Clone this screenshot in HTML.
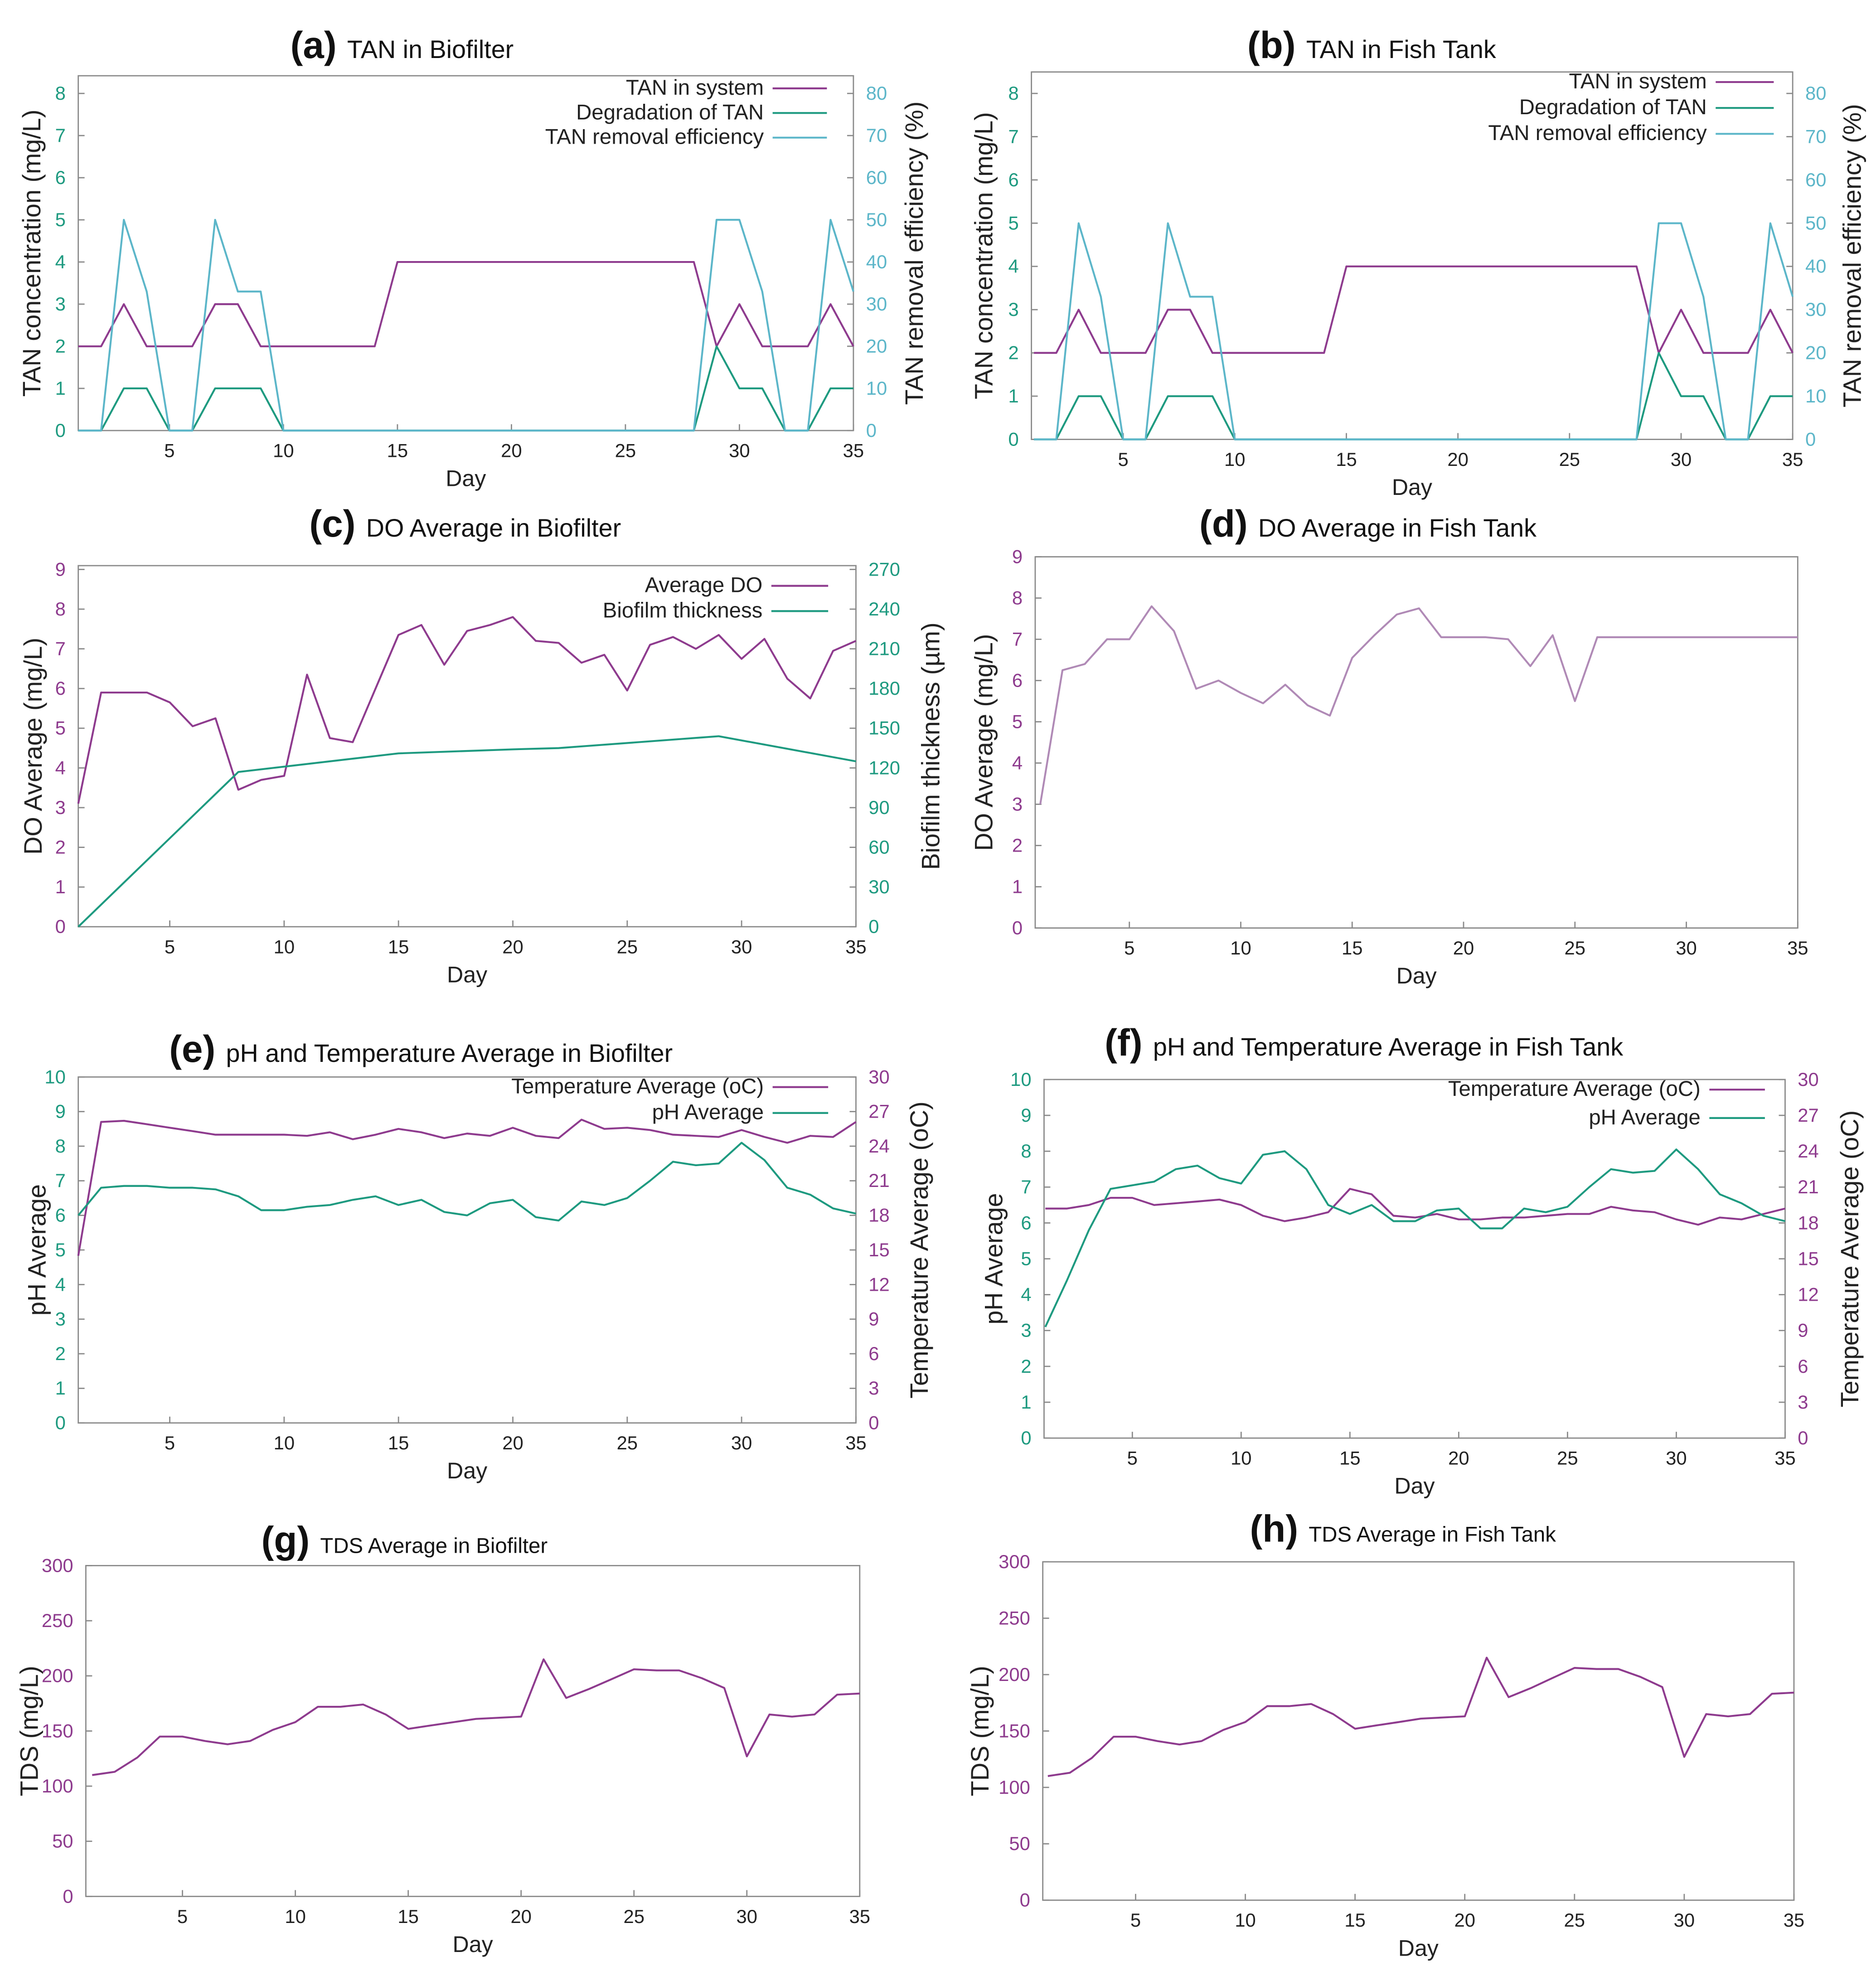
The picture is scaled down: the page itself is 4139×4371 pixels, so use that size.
<!DOCTYPE html>
<html><head><meta charset="utf-8"><style>
html,body{margin:0;padding:0;background:#fff}
svg{display:block}
text{font-family:"Liberation Sans",sans-serif}
</style></head><body>
<svg id="fig" width="4139" height="4371" viewBox="0 0 1486 1569" preserveAspectRatio="none" xmlns="http://www.w3.org/2000/svg"></svg>
<script>
const days = Array.from({length:35},(_,i)=>i+1);
const tanSystem = [2,2,3,2,2,2,3,3,2,2,2,2,2,2,4,4,4,4,4,4,4,4,4,4,4,4,4,4,2,3,2,2,2,3,2];
const tanDegradation = [0,0,1,1,0,0,1,1,1,0,0,0,0,0,0,0,0,0,0,0,0,0,0,0,0,0,0,0,2,1,1,0,0,1,1];
const tanEfficiency = [0,0,50,33,0,0,50,33,33,0,0,0,0,0,0,0,0,0,0,0,0,0,0,0,0,0,0,0,50,50,33,0,0,50,33];
const doBiofilter = [3.1,5.9,5.9,5.9,5.65,5.05,5.25,3.45,3.7,3.8,6.35,4.75,4.65,6.0,7.35,7.6,6.6,7.45,7.6,7.8,7.2,7.15,6.65,6.85,5.95,7.1,7.3,7.0,7.35,6.75,7.25,6.25,5.75,6.95,7.2];
const biofilmDays = [1,8,10,15,20,22,29,35];
const biofilmThickness = [0,117,121,131,134,135,144,125];
const doFishTank = [3.0,6.25,6.4,7.0,7.0,7.8,7.2,5.8,6.0,5.7,5.45,5.9,5.4,5.15,6.55,7.1,7.6,7.75,7.05,7.05,7.05,7.0,6.35,7.1,5.5,7.05,7.05,7.05,7.05,7.05,7.05,7.05,7.05,7.05,7.05];
const tempBiofilter = [14.5,26.1,26.2,25.9,25.6,25.3,25.0,25.0,25.0,25.0,24.9,25.2,24.6,25.0,25.5,25.2,24.7,25.1,24.9,25.6,24.9,24.7,26.3,25.5,25.6,25.4,25.0,24.9,24.8,25.4,24.8,24.3,24.9,24.8,26.1];
const phBiofilter = [6.0,6.8,6.85,6.85,6.8,6.8,6.75,6.55,6.15,6.15,6.25,6.3,6.45,6.55,6.3,6.45,6.1,6.0,6.35,6.45,5.95,5.85,6.4,6.3,6.5,7.0,7.55,7.45,7.5,8.1,7.6,6.8,6.6,6.2,6.05];
const tempFishTank = [19.2,19.2,19.5,20.1,20.1,19.5,19.65,19.8,19.95,19.5,18.6,18.15,18.45,18.9,20.85,20.4,18.6,18.45,18.75,18.3,18.3,18.45,18.45,18.6,18.75,18.75,19.35,19.05,18.9,18.3,17.85,18.45,18.3,18.75,19.2];
const phFishTank = [3.1,4.4,5.8,6.95,7.05,7.15,7.5,7.6,7.25,7.1,7.9,8.0,7.5,6.5,6.25,6.5,6.05,6.05,6.35,6.4,5.85,5.85,6.4,6.3,6.45,7.0,7.5,7.4,7.45,8.05,7.5,6.8,6.55,6.2,6.05];
const tdsBiofilter = [110,113,126,145,145,141,138,141,151,158,172,172,174,165,152,155,158,161,162,163,215,180,188,197,206,205,205,198,189,127,165,163,165,183,184];
const tdsFishTank = tdsBiofilter.slice();
const xTicks = [5,10,15,20,25,30,35];

const P='#8e3b8e', T='#1e9a80', B='#5cb6c9';
const svg=document.getElementById('fig'), NS='http://www.w3.org/2000/svg';
function el(tag,attrs,parent,txt){const e=document.createElementNS(NS,tag);for(const k in attrs)e.setAttribute(k,attrs[k]);if(txt!==undefined)e.textContent=txt;(parent||svg).appendChild(e);return e;}

function panel(c){
  const g=el('g',{});
  
  
  const [L,R,Tp,Bt]=c.frame;
  const xs=d=>c.x1+(d-1)*(c.x35-c.x1)/34;
  const ysL=v=>c.y0+(v/c.lmax)*(c.yTop-c.y0);
  const ysR=v=>c.y0+(v/c.rmax)*(c.yTop-c.y0);
  const fr=el('rect',{x:L,y:Tp,width:R-L,height:Bt-Tp,fill:'none',stroke:'#8a8a8a','stroke-width':1},g);
  
  const tt=el('text',{x:c.title[0],y:c.title[1],'font-size':c.tsize||20,fill:'#111'},g);
  
  el('tspan',{'font-weight':'bold','font-size':30},tt,'('+c.id+') ');
  el('tspan',{},tt,c.title[2]);
  xTicks.forEach(d=>{
    const x=xs(d);
    el('line',{x1:x,x2:x,y1:Bt,y2:Bt-5,stroke:'#8a8a8a'},g);
    const t=el('text',{x:x,y:Bt+21,'font-size':15,'text-anchor':'middle',fill:'#222'},g,d);
    
  });
  const xl=el('text',{x:(L+R)/2,y:Bt+44,'font-size':18,'text-anchor':'middle',fill:'#222'},g,'Day');
  
  c.lticks.forEach(v=>{
    const y=ysL(v);
    el('line',{x1:L,x2:L+5,y1:y,y2:y,stroke:'#8a8a8a'},g);
    const t=el('text',{x:L-10,y:y+5,'font-size':15,'text-anchor':'end',fill:c.lcol},g,v);
    
  });
  const yl=el('text',{x:0,y:0,'font-size':20,'text-anchor':'middle',fill:'#222',transform:`translate(${c.ylab[0]},${(Tp+Bt)/2}) rotate(-90)`},g,c.ylab[1]);
  
  if(c.rticks){
    c.rticks.forEach(v=>{
      const y=ysR(v);
      el('line',{x1:R,x2:R-5,y1:y,y2:y,stroke:'#8a8a8a'},g);
      const t=el('text',{x:R+10,y:y+5,'font-size':15,'text-anchor':'start',fill:c.rcol},g,v);
      
    });
    const rl=el('text',{x:0,y:0,'font-size':20,'text-anchor':'middle',fill:'#222',transform:`translate(${c.rlab[0]},${(Tp+Bt)/2}) rotate(-90)`},g,c.rlab[1]);
    
  }
  c.series.forEach((s,i)=>{
    const sc=s.right?ysR:ysL;
    const dd=s.days||days;
    const pts=dd.map((d,k)=>xs(d).toFixed(1)+','+sc(s.vals[k]).toFixed(1)).join(' ');
    const pl=el('polyline',{points:pts,fill:'none',stroke:s.col,'stroke-width':1.5,'stroke-linejoin':'round'},g);
    
    if(s.name && c.leg){
      const y=c.leg[2]+i*c.leg[3];
      const lt=el('text',{x:c.leg[0],y:y+5,'font-size':17,'text-anchor':'end',fill:'#222'},g,s.name);
      
      el('line',{x1:c.leg[0]+7,x2:c.leg[1],y1:y,y2:y,stroke:s.col,'stroke-width':1.5},g);
    }
  });
}
const r=(a,b,s)=>{const o=[];for(let v=a;v<=b;v+=s)o.push(v);return o;};
const tanSeries=[{name:'TAN in system',vals:tanSystem,col:P},{name:'Degradation of TAN',vals:tanDegradation,col:T},{name:'TAN removal efficiency',vals:tanEfficiency,col:B,right:true}];
panel({id:'a',frame:[62,676,60,341],x1:62,x35:676,y0:341,yTop:74,lmax:8,rmax:80,lticks:r(0,8,1),rticks:r(0,80,10),lcol:T,rcol:B,
  ylab:[32,'TAN concentration (mg/L)'],rlab:[731,'TAN removal efficiency (%)'],title:[230,46,'TAN in Biofilter'],leg:[605,655,70,19.5],series:tanSeries});
panel({id:'b',frame:[817,1420,57,348],x1:819,x35:1420,y0:348,yTop:74,lmax:8,rmax:80,lticks:r(0,8,1),rticks:r(0,80,10),lcol:T,rcol:B,
  ylab:[786,'TAN concentration (mg/L)'],rlab:[1474,'TAN removal efficiency (%)'],title:[988,46,'TAN in Fish Tank'],leg:[1352,1405,65,20.5],series:tanSeries});
panel({id:'c',frame:[62,678,448,734],x1:62,x35:678,y0:734,yTop:451,lmax:9,rmax:270,lticks:r(0,9,1),rticks:r(0,270,30),lcol:P,rcol:T,
  ylab:[33,'DO Average (mg/L)'],rlab:[744,'Biofilm thickness (µm)'],title:[245,425,'DO Average in Biofilter'],leg:[604,656,464,20],
  series:[{name:'Average DO',vals:doBiofilter,col:P},{name:'Biofilm thickness',days:biofilmDays,vals:biofilmThickness,col:T,right:true}]});
panel({id:'d',frame:[820,1424,441,735],x1:824,x35:1424,y0:735,yTop:441,lmax:9,lticks:r(0,9,1),lcol:P,
  ylab:[786,'DO Average (mg/L)'],title:[950,425,'DO Average in Fish Tank'],series:[{vals:doFishTank,col:'#b08ab6'}]});
panel({id:'e',frame:[62,678,853,1127],x1:62,x35:678,y0:1127,yTop:853,lmax:10,rmax:30,lticks:r(0,10,1),rticks:r(0,30,3),lcol:T,rcol:P,
  ylab:[36,'pH Average'],rlab:[735,'Temperature Average (oC)'],title:[134,841,'pH and Temperature Average in Biofilter'],leg:[605,656,861,20.5],
  series:[{name:'Temperature Average (oC)',vals:tempBiofilter,col:P,right:true},{name:'pH Average',vals:phBiofilter,col:T}]});
panel({id:'f',frame:[827,1414,855,1139],x1:828,x35:1414,y0:1139,yTop:855,lmax:10,rmax:30,lticks:r(0,10,1),rticks:r(0,30,3),lcol:T,rcol:P,
  ylab:[794,'pH Average'],rlab:[1472,'Temperature Average (oC)'],title:[875,836,'pH and Temperature Average in Fish Tank'],leg:[1347,1398,863,22.5],
  series:[{name:'Temperature Average (oC)',vals:tempFishTank,col:P,right:true},{name:'pH Average',vals:phFishTank,col:T}]});
panel({id:'g',frame:[68,681,1240,1502],x1:73,x35:681,y0:1502,yTop:1240,lmax:300,lticks:r(0,300,50),lcol:P,tsize:17,
  ylab:[30,'TDS (mg/L)'],title:[207,1230,'TDS Average in Biofilter'],series:[{vals:tdsBiofilter,col:P}]});
panel({id:'h',frame:[826,1421,1237,1505],x1:830,x35:1421,y0:1505,yTop:1237,lmax:300,lticks:r(0,300,50),lcol:P,tsize:17,
  ylab:[783,'TDS (mg/L)'],title:[990,1221,'TDS Average in Fish Tank'],series:[{vals:tdsFishTank,col:P}]});
</script>
</body></html>
